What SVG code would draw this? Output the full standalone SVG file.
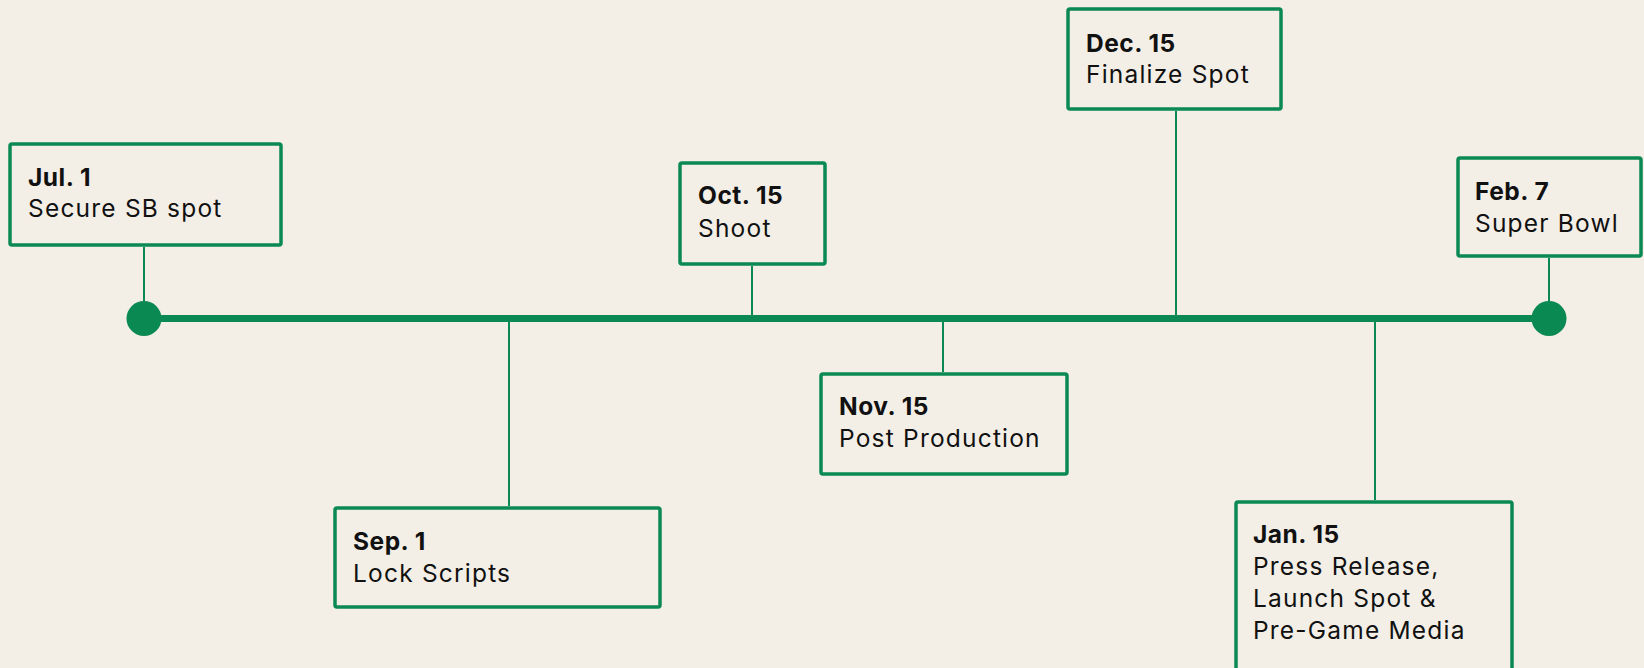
<svg xmlns="http://www.w3.org/2000/svg" width="1644" height="668" viewBox="0 0 1644 668">
<style>
.box{fill:none;stroke:#0b8953;stroke-width:3.5}
.conn{stroke:#0b8953;stroke-width:2;fill:none}
.main{stroke:#0b8953;stroke-width:7;fill:none}
.dot{fill:#0b8953}
.t{font-family:Inter,"DejaVu Sans",sans-serif;font-size:24.5px;letter-spacing:1.2px;fill:#111}
.d{font-weight:700;letter-spacing:0.5px}
</style>
<rect width="1644" height="668" fill="#f3efe7"/>
<g id="connectors">
<line class="main" x1="144" y1="318.5" x2="1549" y2="318.5"/>
<line class="conn" x1="144" y1="247" x2="144" y2="318"/>
<line class="conn" x1="752" y1="266" x2="752" y2="316"/>
<line class="conn" x1="1176" y1="111" x2="1176" y2="316"/>
<line class="conn" x1="1549" y1="258" x2="1549" y2="318"/>
<line class="conn" x1="509" y1="320" x2="509" y2="506"/>
<line class="conn" x1="943" y1="320" x2="943" y2="372"/>
<line class="conn" x1="1375" y1="320" x2="1375" y2="500"/>
<circle class="dot" cx="144" cy="318.5" r="17.5"/>
<circle class="dot" cx="1549" cy="318.5" r="17.5"/>
</g>
<g id="jul">
<rect class="box" x="10" y="144" width="271" height="101" rx="2"/>
<text class="t d" x="28" y="186">Jul. 1</text>
<text class="t" x="28" y="217">Secure SB spot</text>
</g>
<g id="oct">
<rect class="box" x="680" y="163" width="145" height="101" rx="2"/>
<text class="t d" x="698" y="204">Oct. 15</text>
<text class="t" x="698" y="237">Shoot</text>
</g>
<g id="dec">
<rect class="box" x="1068" y="9" width="213" height="100" rx="2"/>
<text class="t d" x="1086" y="52">Dec. 15</text>
<text class="t" x="1086" y="83">Finalize Spot</text>
</g>
<g id="feb">
<rect class="box" x="1458" y="158" width="183" height="98" rx="2"/>
<text class="t d" x="1475" y="200">Feb. 7</text>
<text class="t" x="1475" y="232">Super Bowl</text>
</g>
<g id="sep">
<rect class="box" x="335" y="508" width="325" height="99" rx="2"/>
<text class="t d" x="353" y="550">Sep. 1</text>
<text class="t" x="353" y="582">Lock Scripts</text>
</g>
<g id="nov">
<rect class="box" x="821" y="374" width="246" height="100" rx="2"/>
<text class="t d" x="839" y="415">Nov. 15</text>
<text class="t" x="839" y="447">Post Production</text>
</g>
<g id="jan">
<rect class="box" x="1236" y="502" width="276" height="170" rx="2"/>
<text class="t d" x="1253" y="543">Jan. 15</text>
<text class="t" x="1253" y="575">Press Release,</text>
<text class="t" x="1253" y="607">Launch Spot &amp;</text>
<text class="t" x="1253" y="639">Pre-Game Media</text>
</g>
</svg>
